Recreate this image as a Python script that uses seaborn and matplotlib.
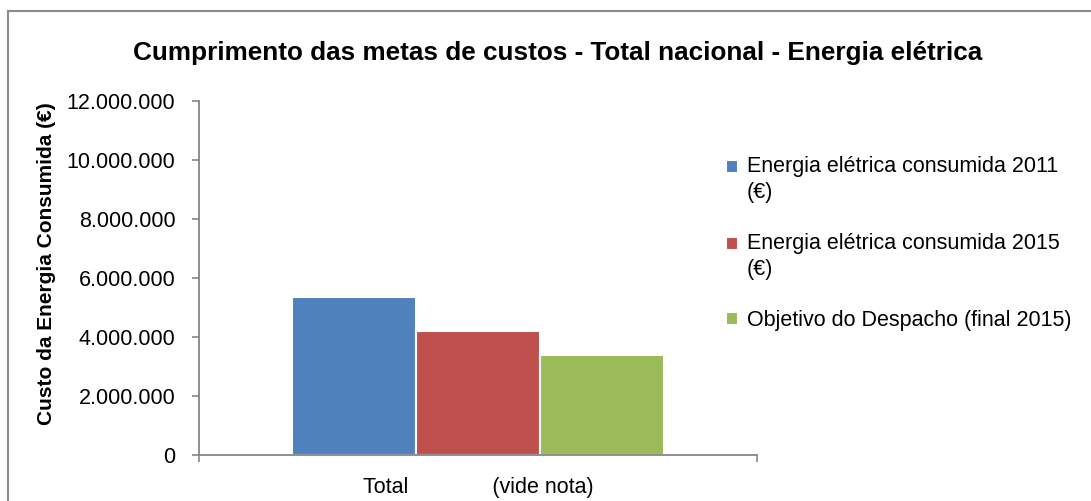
import matplotlib
matplotlib.use("Agg")
import matplotlib.pyplot as plt
import matplotlib.patches as mpatches
from matplotlib.legend_handler import HandlerPatch
from matplotlib.ticker import FuncFormatter, FixedLocator
import pandas as pd
import seaborn as sns

sns.set_theme(style="white")
plt.rcParams['font.family'] = ['Liberation Sans', 'DejaVu Sans']
plt.rcParams['text.color'] = 'black'

# dados
categoria = ["Total              (vide nota)"]
series = ["Energia elétrica consumida 2011\n(€)",
          "Energia elétrica consumida 2015\n(€)",
          "Objetivo do Despacho (final 2015)"]
valores = [5350000, 4220000, 3380000]
cores = ["#4F81BD", "#C0504D", "#9BBB59"]

df = pd.DataFrame({"cat": categoria * len(series), "serie": series, "valor": valores})

fig = plt.figure(figsize=(10.91, 5.01), dpi=100)
ax = fig.add_axes([0.1824, 0.0918, 0.5115, 0.7066])

sns.barplot(data=df, x="cat", y="valor", hue="serie", palette=cores, width=0.665,
            gap=0, edgecolor="white", linewidth=1.5, saturation=1, ax=ax)

ax.set_xlim(-0.5, 0.5)
ax.set_ylim(0, 12000000)
ax.yaxis.set_major_locator(FixedLocator(range(0, 12000001, 2000000)))
ax.yaxis.set_major_formatter(FuncFormatter(lambda v, p: f"{int(v):,}".replace(",", ".")))

cinza = "#868686"
for s in ["top", "right"]:
    ax.spines[s].set_visible(False)
for s in ["left", "bottom"]:
    ax.spines[s].set_color(cinza)
    ax.spines[s].set_linewidth(1.3)

ax.tick_params(axis="y", which="major", left=True, length=5, width=1.2, color=cinza,
               labelsize=15.5, pad=12, labelcolor="black")
ax.tick_params(axis="x", which="major", bottom=False, labelsize=15.5, pad=10, labelcolor="black")
ax.xaxis.set_minor_locator(FixedLocator([-0.5, 0.5]))
ax.tick_params(axis="x", which="minor", bottom=True, length=5, width=1.2, color=cinza)

ax.set_xlabel("")
ax.set_ylabel("Custo da Energia Consumida (€)", fontsize=15, fontweight="bold", color="black")
ax.yaxis.set_label_coords(-0.256, 0.54)

fig.suptitle("Cumprimento das metas de custos - Total nacional - Energia elétrica",
             x=0.511, y=0.918, fontsize=18.8, fontweight="bold", color="black")


# quadrado da legenda alinhado com a primeira linha do texto
def quadrado(legend, orig_handle, xdescent, ydescent, width, height, fontsize):
    dy = 0.62 * fontsize if "\n" in orig_handle.get_label() else 0
    return mpatches.Rectangle((-xdescent, -ydescent + dy), width, height)


handles, labels = ax.get_legend_handles_labels()
leg = ax.legend(handles, labels, loc="upper left", bbox_to_anchor=(0.648, 0.727),
                bbox_transform=fig.transFigure, frameon=False, fontsize=15.5,
                handlelength=0.55, handleheight=0.55, handletextpad=0.4, labelspacing=1.4,
                handler_map={mpatches.Rectangle: HandlerPatch(patch_func=quadrado)})
for t in leg.get_texts():
    t.set_linespacing(1.3)
    t.set_color("black")

# moldura do gráfico
fig.patches.append(mpatches.Rectangle((0.0075, -0.05), 1.05, 1.028, transform=fig.transFigure,
                                      fill=False, edgecolor="#8c8c8c", linewidth=1.5))

fig.savefig("out.png", dpi=100)
